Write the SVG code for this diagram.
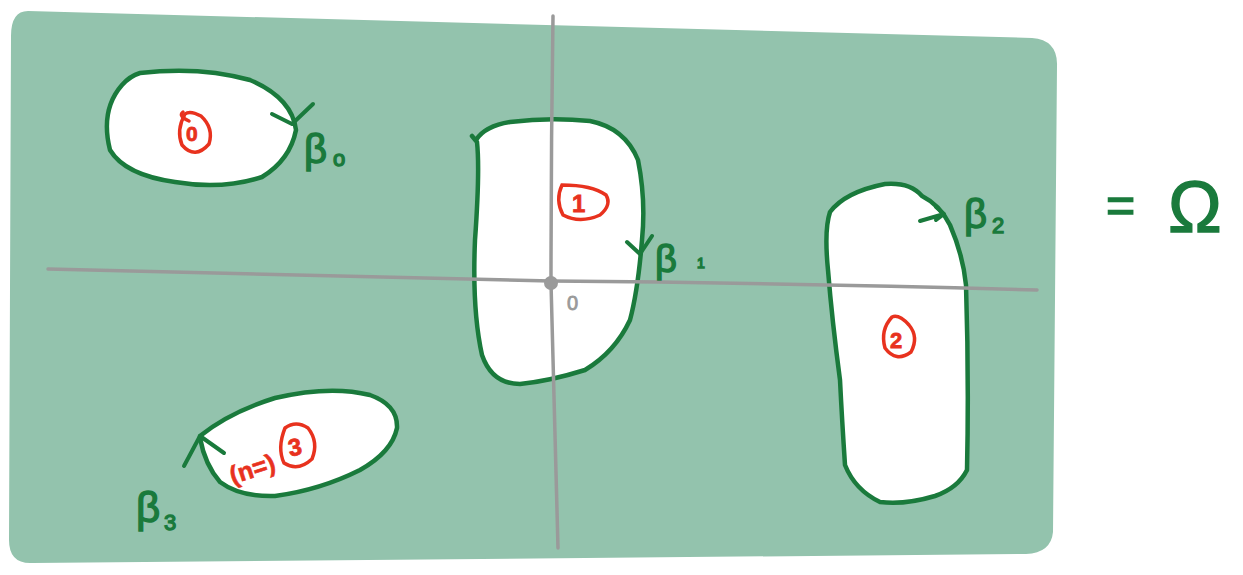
<svg xmlns="http://www.w3.org/2000/svg" width="1243" height="575" viewBox="0 0 1243 575">
<style>
.bg{fill:#93c3ad}
.hole{fill:#ffffff;stroke:#1a7a3c;stroke-width:4.5;stroke-linejoin:round;stroke-linecap:round}
.gl{fill:none;stroke:#1a7a3c;stroke-width:4;stroke-linecap:round;stroke-linejoin:round}
.axis{fill:none;stroke:#9a9a9a;stroke-width:3.5;stroke-linecap:round}
.rc{fill:none;stroke:#e8321e;stroke-width:3.5;stroke-linecap:round}
.rt{fill:#e8321e;stroke:#e8321e;stroke-width:0.8;font-family:"Liberation Sans",sans-serif;font-weight:bold}
.gt{fill:#1a7a3c;stroke:#1a7a3c;stroke-width:1.4;font-family:"Liberation Sans",sans-serif}
</style>
<rect width="1243" height="575" fill="#ffffff"/>
<path class="bg" d="M28,11 L1032,38 Q1058,40 1057,66 L1053,532 Q1051,553 1026,554 L32,563 Q9,564 9,540 L11,36 Q11,11 28,11 Z"/>
<g id="hole0">
<path class="hole" d="M140,73 Q200,66 250,80 Q292,98 296,130 Q290,160 262,177 Q222,190 175,182 Q125,175 110,150 Q100,110 122,85 Q130,76 140,73 Z"/>
<path class="rc" d="M185,114 Q176,130 182,145 Q195,160 209,144 Q214,128 201,116 Q190,110 185,114 Z"/>
<path class="rc" d="M189,121 Q178,116 183,112"/>
<text class="rt" x="186" y="141" font-size="21">0</text>
</g>
<g id="hole1">
<path class="hole" d="M476,140 Q485,126 510,122 Q550,117 590,121 Q625,128 638,160 Q646,200 642,240 Q638,290 630,320 Q615,352 585,370 Q550,381 520,384 Q492,384 482,355 Q472,310 475,240 Q480,170 477,142 L472,136"/>
<path class="rc" d="M562,185 Q555,200 563,215 Q580,224 600,215 Q612,205 606,195 Q592,185 562,185 Z"/>
<text class="rt" x="572" y="212" font-size="24">1</text>
</g>
<g id="hole2">
<path class="hole" d="M885,184 Q910,182 922,196 Q940,205 950,225 Q963,255 966,285 Q969,380 967,470 Q958,488 935,496 Q905,505 880,502 Q855,490 845,465 Q842,420 840,380 Q832,320 828,270 Q824,230 830,212 Q845,192 885,184 Z"/>
<path class="rc" d="M892,317 Q880,330 885,348 Q896,363 911,352 Q919,337 909,325 Q899,314 892,317 Z"/>
<text class="rt" x="890" y="348" font-size="22">2</text>
</g>
<g id="hole3">
<path class="hole" d="M200,436 Q230,412 275,398 Q330,385 370,395 Q398,405 397,428 Q392,452 360,470 Q320,490 275,496 Q240,497 220,482 Q205,465 200,438 Z"/>
<path class="rc" d="M285,428 Q277,448 284,463 Q298,472 312,459 Q319,442 308,428 Q296,420 285,428 Z"/>
<text class="rt" x="288" y="455" font-size="24" transform="rotate(-10 297 446)">3</text>
<text x="228" y="478" transform="rotate(-18 250 466)" font-family="Liberation Sans,sans-serif" font-size="25" fill="#e8321e" stroke="#e8321e" stroke-width="0.6" font-weight="bold">(n=)</text>
</g>
<g id="axes">
<path class="axis" d="M48,269 Q300,275 551,281 Q800,283 1037,290"/>
<path class="axis" d="M553,16 Q551,150 551,283 Q555,420 558,548"/>
<circle cx="551" cy="283" r="7" fill="#9a9a9a"/>
<text x="567" y="310" font-family="Liberation Sans,sans-serif" font-size="20" fill="#9a9a9a" stroke="#9a9a9a" stroke-width="0.8">0</text>
</g>
<g id="connectors">
<path class="gl" d="M272,114 L292,124 L313,104"/>
<path class="gl" d="M627,242 L640,254 L652,236"/>
<path class="gl" d="M920,221 L944,214 M936,207 L944,214 L936,220"/>
<path class="gl" d="M184,466 L200,436 L224,453"/>
</g>
<g id="labels">
<text class="gt" x="304" y="163" font-size="40">β</text>
<text class="gt" x="333" y="166" font-size="22">o</text>
<text class="gt" x="655" y="272" font-size="38">β</text>
<text class="gt" x="697" y="268" font-size="14">1</text>
<text class="gt" x="964" y="228" font-size="40">β</text>
<text class="gt" x="992" y="233" font-size="22">2</text>
<text class="gt" x="136" y="522" font-size="42">β</text>
<text class="gt" x="164" y="530" font-size="22">3</text>
<text class="gt" x="1106" y="222" font-size="50">=</text>
<text class="gt" x="1168" y="232" font-size="72">Ω</text>
</g>
</svg>
